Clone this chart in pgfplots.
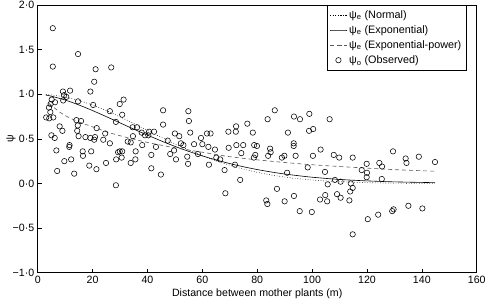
\documentclass[border=0pt]{standalone}
\usepackage{fontspec}
\setmainfont{Liberation Sans}
\usepackage{pgfplots}
\usepackage{pgfplotstable}
\pgfplotsset{compat=1.18}
\pgfplotstableread{
x y
5.5 1.74
14.7 1.45
5.5 1.31
21.1 1.28
26.8 1.30
20.6 1.14
19.2 1.03
11.8 1.04
9.2 1.03
9.6 0.99
10.4 0.97
9.3 0.93
14.7 0.92
20.2 0.88
5.1 0.94
6.3 0.91
4.7 0.89
4.1 0.85
4.6 0.80
3.1 0.74
4.2 0.73
5.7 0.74
26.3 0.81
28.5 0.69
14.1 0.71
15.8 0.70
8.0 0.64
9.0 0.59
14.6 0.65
14.4 0.59
21.5 0.62
5.0 0.54
6.2 0.51
14.9 0.53
17.4 0.52
19.2 0.51
20.9 0.52
20.6 0.49
23.9 0.49
24.6 0.56
26.3 0.45
6.8 0.37
11.5 0.41
11.6 0.43
16.4 0.36
16.5 0.31
19.5 0.36
9.7 0.25
12.2 0.27
29.3 0.35
28.6 0.27
24.9 0.23
18.8 0.20
21.4 0.16
7.1 0.14
13.3 0.11
28.5 -0.02
31.3 0.94
29.9 0.89
30.8 0.77
45.7 0.82
54.9 0.81
45.7 0.66
55.1 0.70
34.6 0.63
36.2 0.63
37.9 0.57
40.6 0.58
42.4 0.58
39.1 0.54
40.3 0.54
50.0 0.56
51.6 0.53
55.6 0.57
34.7 0.53
32.8 0.47
33.9 0.46
38.1 0.43
43.1 0.41
47.4 0.48
52.2 0.45
53.1 0.43
57.0 0.44
49.7 0.37
48.3 0.33
35.7 0.36
29.9 0.36
30.8 0.36
30.6 0.29
35.6 0.27
33.9 0.23
41.4 0.32
50.4 0.27
54.5 0.30
54.8 0.22
41.4 0.17
44.9 0.10
59.5 0.51
61.7 0.56
63.0 0.56
69.5 0.58
72.2 0.58
72.3 0.64
76.4 0.67
78.4 0.57
60.0 0.44
62.2 0.41
64.6 0.38
69.6 0.40
72.4 0.43
74.9 0.43
78.9 0.43
79.9 0.42
58.4 0.33
65.1 0.29
66.5 0.27
74.2 0.34
79.3 0.32
78.8 0.29
62.4 0.21
68.1 0.15
71.9 0.21
73.8 0.04
68.4 -0.11
86.4 0.82
83.8 0.72
91.2 0.57
84.7 0.39
84.9 0.35
84.0 0.31
89.0 0.29
89.9 0.31
87.2 -0.06
83.3 -0.19
83.7 -0.23
90.0 -0.20
90.9 0.12
93.4 0.75
95.6 0.72
99.0 0.78
106.4 0.72
98.9 0.59
100.4 0.61
93.3 0.45
93.3 0.42
103.1 0.38
94.0 0.31
100.3 0.31
107.9 0.32
109.9 0.29
114.8 0.29
119.9 0.22
124.5 0.23
125.5 0.19
129.5 0.36
98.4 0.18
104.7 0.13
118.1 0.15
120.0 0.12
119.9 0.07
125.4 0.05
108.3 0.04
110.4 0.02
114.1 0.00
105.7 -0.01
114.8 -0.05
113.9 -0.09
93.4 -0.14
104.8 -0.13
102.9 -0.18
105.5 -0.20
109.1 -0.12
110.4 -0.16
113.6 -0.19
95.5 -0.31
99.9 -0.32
120.3 -0.40
124.1 -0.35
129.2 -0.31
129.7 -0.29
114.8 -0.57
134.1 0.28
134.4 0.23
138.9 0.30
144.8 0.24
135.1 -0.25
140.2 -0.28
}\observed
\begin{document}
\begin{tikzpicture}[font=\fontsize{10.6bp}{12.7bp}\selectfont]
\begin{axis}[
  scale only axis, width=439bp, height=267.7bp,
  xmin=0, xmax=160, ymin=-1, ymax=2,
  xtick={0,20,40,60,80,100,120,140,160},
  xticklabels={0,20,40,60,80,100,120,140,160},
  ytick={-1,-0.5,0,0.5,1,1.5,2},
  yticklabels={−1·0,−0·5,0·0,0·5,1·0,1·5,2·0},
  tick align=inside, xtick pos=bottom, ytick pos=left,
  major tick length=4bp,
  axis line style={line width=0.6bp},
  every tick/.style={line width=0.6bp, black},
  tick label style={font=\fontsize{10.6bp}{12.7bp}\selectfont},
  label style={font=\fontsize{10.6bp}{12.7bp}\selectfont},
  xlabel={Distance between mother plants (m)},
  ylabel={ψ},
  xlabel style={yshift=2bp},
  ylabel style={at={(axis description cs:-0.0608,0.5)}, anchor=center},
  legend style={at={(0.9757,1)}, anchor=north east, draw=black, line width=0.5bp,
    fill=white, font=\fontsize{10.8bp}{12.9bp}\selectfont, row sep=1.8bp,
    inner xsep=2.5bp, inner ysep=3bp},
  legend cell align=left,
  clip=false,
]
\addplot[black, line width=0.6bp, dotted, smooth] coordinates {
(3,0.997)(5,0.992)(10,0.968)(15,0.930)(20,0.878)(25,0.816)(30,0.747)(35,0.672)
(40,0.595)(45,0.518)(50,0.444)(55,0.375)(60,0.311)(65,0.254)(70,0.204)(75,0.161)
(80,0.125)(85,0.096)(90,0.072)(95,0.053)(100,0.039)(105,0.028)(110,0.020)
(120,0.009)(130,0.004)(144.8,0.001)};
\addlegendentry{ψ\textsubscript{e} (Normal)}
\addplot[black, line width=0.6bp, smooth] coordinates {
(3,0.990)(5,0.978)(10,0.935)(15,0.880)(20,0.817)(25,0.749)(30,0.679)(35,0.609)
(40,0.542)(45,0.477)(50,0.416)(55,0.360)(60,0.309)(65,0.264)(70,0.223)(75,0.187)
(80,0.156)(85,0.129)(90,0.106)(95,0.087)(100,0.070)(110,0.045)(120,0.029)
(130,0.018)(144.8,0.009)};
\addlegendentry{ψ\textsubscript{e} (Exponential)}
\addplot[black!65, line width=0.6bp, dash pattern=on 4bp off 3bp, smooth] coordinates {
(4,0.90)(6,0.85)(8,0.80)(11,0.745)(15,0.69)(20,0.635)(25,0.58)(30,0.535)
(40,0.46)(50,0.40)(60,0.35)(70,0.30)(80,0.265)(90,0.235)(100,0.21)(110,0.19)
(120,0.172)(130,0.155)(144.8,0.137)};
\addlegendentry{ψ\textsubscript{e} (Exponential-power)}
\addplot[only marks, mark=o, mark size=2.7bp, mark options={black, line width=0.55bp}]
  table {\observed};
\addlegendentry{ψ\textsubscript{o} (Observed)}
\end{axis}
\pgfresetboundingbox
\path ([shift={(-37.7bp,-27.3bp)}]current axis.south west) rectangle ([shift={(9.3bp,5bp)}]current axis.north east);
\end{tikzpicture}
\end{document}
